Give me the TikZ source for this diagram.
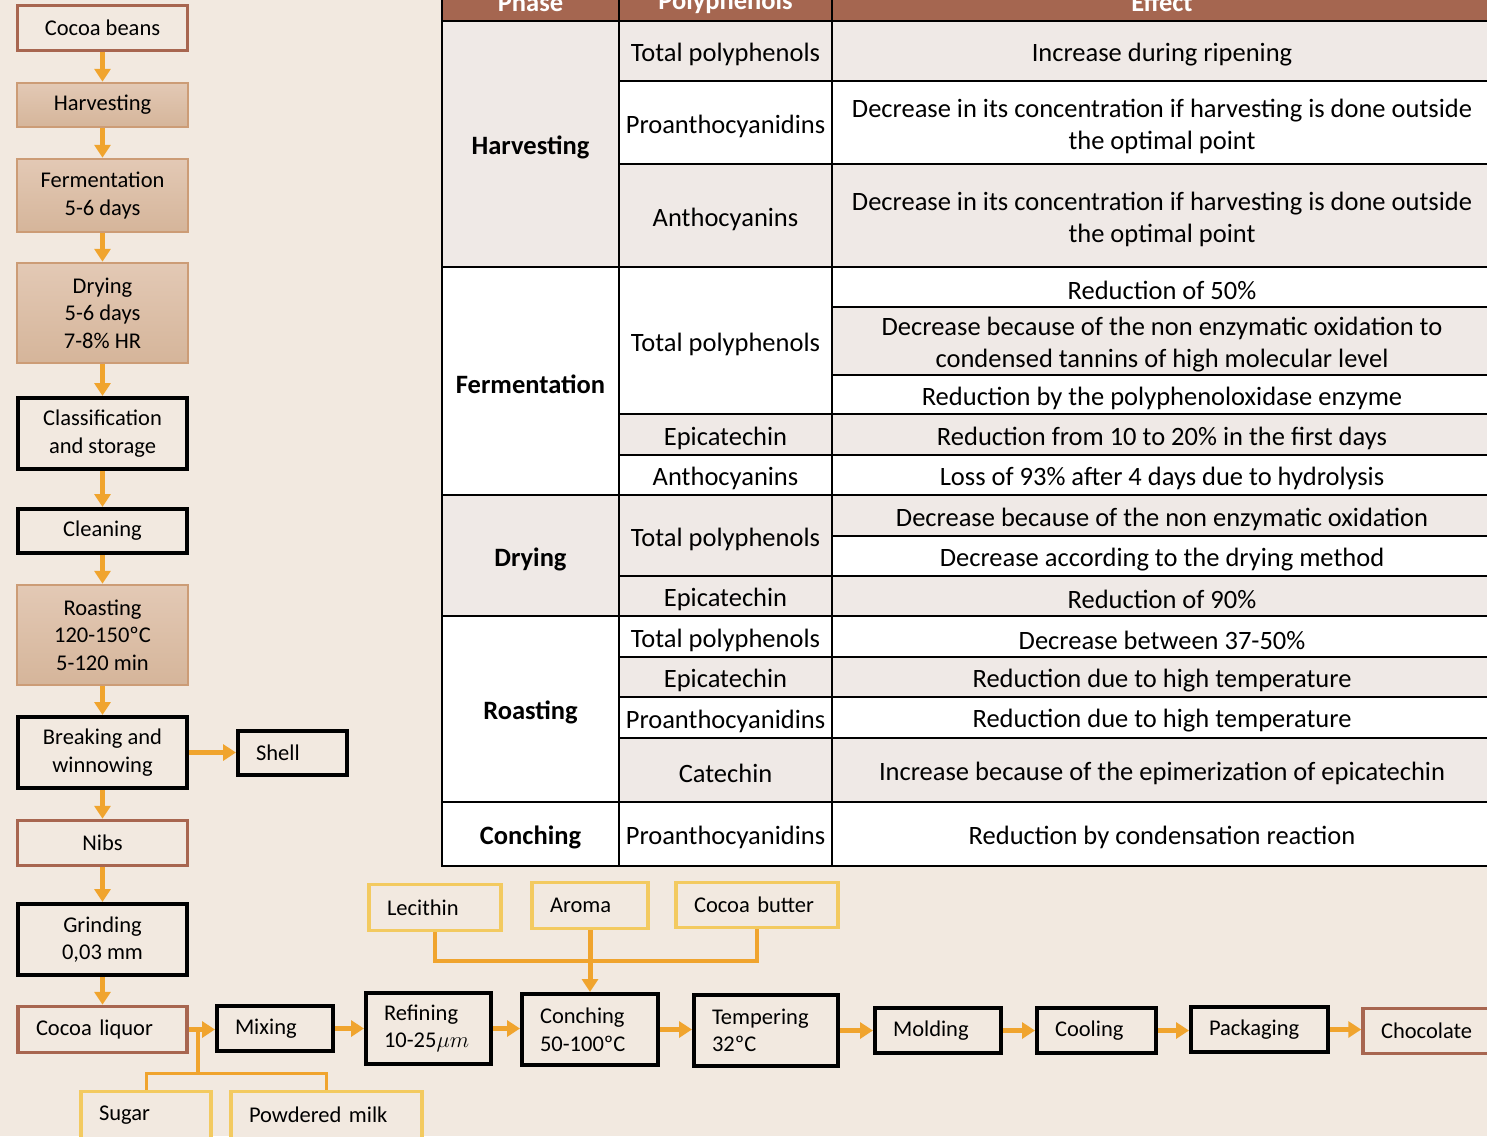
\documentclass[tikz,border=0pt]{standalone}
\usepackage{fix-cm}
\usepackage{fontspec}
\setmainfont{Carlito}
\usetikzlibrary{arrows.meta}
\definecolor{bg}{RGB}{242,233,224}
\definecolor{orng}{RGB}{240,164,46}
\definecolor{yelb}{RGB}{243,202,96}
\definecolor{brownb}{RGB}{168,102,80}
\definecolor{tanb}{RGB}{204,156,118}
\definecolor{tantop}{RGB}{227,201,181}
\definecolor{tanbot}{RGB}{213,181,154}
\definecolor{hdr}{RGB}{165,102,80}
\definecolor{shd}{RGB}{239,233,230}
\newcommand\fsF{\fontsize{22.5}{27.5}\selectfont}
\newcommand\fsT{\fontsize{26.5}{32}\selectfont}
\newcommand\tcell[7]{%
  \filldraw[fill=#5,draw=black,line width=2.5pt] (#1,#2) rectangle (#3,#4);
  \node[tbltext] (#6) at ({(#1+#3)/2},{(#2+#4)/2+3.5}) {#7};}
\begin{document}
\begin{tikzpicture}[x=1pt,y=-1pt,
  base/.style={font=\fsF, inner sep=0pt, align=center},
  brn/.style={base, draw=brownb, line width=3.5pt, fill=bg},
  tanbox/.style={base, draw=tanb, line width=2.5pt, top color=tantop, bottom color=tanbot},
  blk/.style={base, draw=black, line width=4pt, fill=bg},
  ylw/.style={base, draw=yelb, line width=3.5pt, fill=bg},
  lft/.style={align=left, inner xsep=18pt, text width=#1},
  tbltext/.style={font=\fsT, align=center, inner sep=0pt},
  arr/.style={draw=orng, line width=5pt, -{Triangle[length=13pt,width=16pt]}},
  brk/.style={draw=orng, line width=4.5pt},
  brkt/.style={draw=orng, line width=3pt}]
\fill[bg] (0,0) rectangle (1487,1136);
\useasboundingbox (0,0) rectangle (1487,1136);

% ---------- table ----------
\filldraw[fill=hdr,draw=black,line width=2.5pt] (442,-30) rectangle (619,21);
\filldraw[fill=hdr,draw=black,line width=2.5pt] (619,-30) rectangle (832,21);
\filldraw[fill=hdr,draw=black,line width=2.5pt] (832,-30) rectangle (1492,21);
\node[tbltext, text=white, font=\fsT\bfseries] (h1) at (530.5,2) {Phase};
\node[tbltext, text=white, font=\fsT\bfseries] (h2) at (725.5,2) {Polyphenols};
\node[tbltext, text=white, font=\fsT\bfseries] (h3) at (1162,2) {Effect};

\tcell{442}{21}{619}{267}{shd}{ph1}{\bfseries Harvesting}
\tcell{442}{267}{619}{495}{white}{ph2}{\bfseries Fermentation}
\tcell{442}{495}{619}{616}{shd}{ph3}{\bfseries Drying}
\tcell{442}{616}{619}{802}{white}{ph4}{\bfseries Roasting}
\tcell{442}{802}{619}{866}{white}{ph5}{\bfseries Conching}

\tcell{619}{21}{832}{81}{shd}{pp1}{Total polyphenols}
\tcell{619}{81}{832}{164}{white}{pp2}{Proanthocyanidins}
\tcell{619}{164}{832}{267}{shd}{pp3}{Anthocyanins}
\tcell{619}{267}{832}{414}{white}{pp4}{Total polyphenols}
\tcell{619}{414}{832}{455}{shd}{pp5}{Epicatechin}
\tcell{619}{455}{832}{495}{white}{pp6}{Anthocyanins}
\tcell{619}{495}{832}{576}{shd}{pp7}{Total polyphenols}
\tcell{619}{576}{832}{616}{shd}{pp8}{Epicatechin}
\tcell{619}{616}{832}{657}{white}{pp9}{Total polyphenols}
\tcell{619}{657}{832}{697}{shd}{pp10}{Epicatechin}
\tcell{619}{697}{832}{738}{white}{pp11}{Proanthocyanidins}
\tcell{619}{738}{832}{802}{shd}{pp12}{Catechin}
\tcell{619}{802}{832}{866}{white}{pp13}{Proanthocyanidins}

\tcell{832}{21}{1492}{81}{shd}{ef1}{Increase during ripening}
\tcell{832}{81}{1492}{164}{white}{ef2}{Decrease in its concentration if harvesting is done outside\\the optimal point}
\tcell{832}{164}{1492}{267}{shd}{ef3}{Decrease in its concentration if harvesting is done outside\\the optimal point}
\tcell{832}{267}{1492}{307}{white}{ef4}{Reduction of 50\%}
\tcell{832}{307}{1492}{375}{shd}{ef5}{Decrease because of the non enzymatic oxidation to\\condensed tannins of high molecular level}
\tcell{832}{375}{1492}{414}{white}{ef6}{Reduction by the polyphenoloxidase enzyme}
\tcell{832}{414}{1492}{455}{shd}{ef7}{Reduction from 10 to 20\% in the first days}
\tcell{832}{455}{1492}{495}{white}{ef8}{Loss of 93\% after 4 days due to hydrolysis}
\tcell{832}{495}{1492}{536}{shd}{ef9}{Decrease because of the non enzymatic oxidation}
\tcell{832}{536}{1492}{576}{white}{ef10}{Decrease according to the drying method}
\tcell{832}{576}{1492}{616}{shd}{ef11}{Reduction of 90\%}
\tcell{832}{616}{1492}{657}{white}{ef12}{Decrease between 37-50\%}
\tcell{832}{657}{1492}{697}{shd}{ef13}{Reduction due to high temperature}
\tcell{832}{697}{1492}{738}{white}{ef14}{Reduction due to high temperature}
\tcell{832}{738}{1492}{802}{shd}{ef15}{Increase because of the epimerization of epicatechin}
\tcell{832}{802}{1492}{866}{white}{ef16}{Reduction by condensation reaction}

% ---------- left column ----------
\node[brn, minimum width=170pt, minimum height=45pt] (beans) at (102.5,28) {Cocoa beans};
\node[tanbox, minimum width=171pt, minimum height=44pt] (harv) at (102.5,105) {Harvesting};
\node[tanbox, minimum width=171pt, minimum height=73pt] (ferm) at (102.5,195.5) {Fermentation\\5-6 days};
\node[tanbox, minimum width=171pt, minimum height=100pt] (dry) at (102.5,313) {Drying\\5-6 days\\7-8\% HR};
\node[blk, minimum width=169pt, minimum height=71pt] (class) at (102.5,433.5) {Classification\\and storage};
\node[blk, minimum width=169pt, minimum height=44pt] (clean) at (102.5,531) {Cleaning};
\node[tanbox, minimum width=171pt, minimum height=100pt] (roast) at (102.5,635) {Roasting\\120-150ºC\\5-120 min};
\node[blk, minimum width=169pt, minimum height=71pt] (break) at (102.5,752.5) {Breaking and\\winnowing};
\node[blk, minimum height=44pt, lft=73pt] (shell) at (292.5,753) {Shell};
\node[brn, minimum width=170pt, minimum height=45pt] (nibs) at (102.5,843) {Nibs};
\node[blk, minimum width=169pt, minimum height=71pt] (grind) at (102.5,939.5) {Grinding\\0,03 mm};
\node[brn, minimum height=46pt, lft=133pt] (liquor) at (102.5,1029.5) {Cocoa liquor};

% ---------- bottom row ----------
\node[blk, minimum height=45pt, lft=80pt] (mix) at (275,1028.5) {Mixing};
\node[blk, minimum height=71pt, lft=89pt] (ref) at (428.5,1028.5) {Refining\\10-25$\mu m$};
\node[blk, minimum height=71pt, lft=100pt] (conch) at (590,1029.5) {Conching\\50-100ºC};
\node[blk, minimum height=71pt, lft=108pt] (temp) at (766,1030.5) {Tempering\\32ºC};
\node[blk, minimum height=45pt, lft=90pt] (mold) at (938,1030.5) {Molding};
\node[blk, minimum height=45pt, lft=83pt] (cool) at (1096.5,1030.5) {Cooling};
\node[blk, minimum height=45pt, lft=101pt] (pack) at (1259.5,1029.5) {Packaging};
\node[brn, minimum height=45pt, lft=109pt] (choc) at (1435.5,1031) {Chocolate};

% ---------- additives ----------
\node[ylw, minimum height=46pt, lft=96pt] (lec) at (435,907.5) {Lecithin};
\node[ylw, minimum height=46pt, lft=80pt] (aroma) at (590,905.5) {Aroma};
\node[ylw, minimum height=45pt, lft=126pt] (butter) at (757,905) {Cocoa butter};
\node[ylw, minimum height=47pt, lft=94pt] (sugar) at (146,1115) {Sugar};
\node[ylw, minimum height=47pt, lft=155pt] (milk) at (326.5,1115) {Powdered milk};

% ---------- connectors ----------
\foreach \a/\b in {beans/harv,harv/ferm,ferm/dry,dry/class,class/clean,clean/roast,roast/break,break/nibs,nibs/grind,grind/liquor}
  \draw[arr] (\a.south) -- (\b.north);
\draw[arr] (break.east) -- (break.east -| shell.west);
\foreach \a/\b in {liquor/mix,mix/ref,ref/conch,conch/temp,temp/mold,mold/cool,cool/pack,pack/choc}
  \draw[arr] (\a.east) -- (\a.east -| \b.west);

\coordinate (jA) at (590,961);
\draw[brk] (lec.south) |- (jA) -| (butter.south);
\draw[arr] (aroma.south) -- (conch.north);

\coordinate (jB) at (198,1073);
\draw[brkt] (sugar.north) |- (jB) -| (milk.north);
\draw[brk] (jB) -- (jB |- liquor.east);
\end{tikzpicture}
\end{document}
